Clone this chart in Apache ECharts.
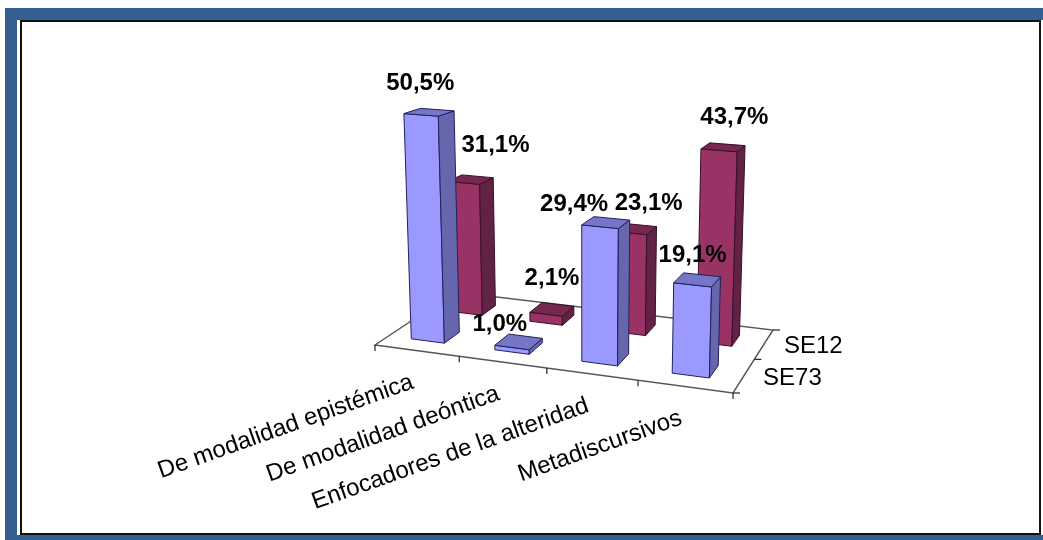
<!DOCTYPE html>
<html><head><meta charset="utf-8">
<style>html,body{margin:0;padding:0;background:#fff}#c{width:1043px;height:540px}</style>
<script src="https://cdn.jsdelivr.net/npm/echarts@6/dist/echarts.min.js"></script>
</head><body><div id="c"></div>
<script>
// ---- data ----
const categories = ['De modalidad epistémica','De modalidad deóntica','Enfocadores de la alteridad','Metadiscursivos'];
const seriesNames = ['SE73','SE12'];
const se73 = [50.5, 1.0, 29.4, 19.1];
const se12 = [31.1, 2.1, 23.1, 43.7];

// ---- layout of the pseudo-3D floor ----
const P0=[375,345],P1=[733,393],P2=[773,330],P3=[455,292];
const sx=P0[0]-P1[0]+P2[0]-P3[0], sy=P0[1]-P1[1]+P2[1]-P3[1];
const d1x=P1[0]-P2[0], d2x=P3[0]-P2[0], d1y=P1[1]-P2[1], d2y=P3[1]-P2[1];
const det=d1x*d2y-d2x*d1y;
const pg=(sx*d2y-d2x*sy)/det, ph=(d1x*sy-sx*d1y)/det;
function floorPt(u,v){
  const w=pg*u+ph*v+1;
  return [((P1[0]-P0[0]+pg*P1[0])*u+(P3[0]-P0[0]+ph*P3[0])*v+P0[0])/w,
          ((P1[1]-P0[1]+pg*P1[1])*u+(P3[1]-P0[1]+ph*P3[1])*v+P0[1])/w, w];
}
const LEAN=1.9e-4, CX=585;
function pt(u,v,px){
  const f=floorPt(u,v), hh=px/f[2];
  return [f[0]+(f[0]-CX)*hh*LEAN, f[1]-hh];
}
const BAR_U=0.1, U_SHIFT=-0.006;
const ROW_V=[[0.155,0.345],[0.655,0.845]];
const palettes=[
  {front:'#9999FF',side:'#6666AE',top:'#7676C8',edge:'#22225A'},
  {front:'#993366',side:'#622245',top:'#77284F',edge:'#3A1028'}
];
const LABEL_NUDGE=[[[-11,-29],[-21,-18],[-34,-18],[-7,-25]],[[23,-34],[-2,-31],[12,-26],[9,-30]]];
const BOLD='bold 24px "Liberation Sans", Arial, sans-serif';
const REG='24px "Liberation Sans", Arial, sans-serif';

function uOf(api,params,cat){
  const cs=params.coordSys;
  return (api.coord([cat,0])[0]-cs.x)/cs.width;
}
function poly(points,fill,stroke){
  return {type:'polygon',shape:{points:points},style:{fill:fill,stroke:stroke,lineWidth:1}};
}
function barRenderer(row){
  return function(params,api){
    const u=uOf(api,params,api.value(0))+U_SHIFT;
    const px=api.size([0,api.value(1)])[1];
    const c=palettes[row],u0=u-BAR_U/2,u1=u+BAR_U/2,v0=ROW_V[row][0],v1=ROW_V[row][1];
    return {type:'group',children:[
      poly([pt(u0,v0,0),pt(u1,v0,0),pt(u1,v0,px),pt(u0,v0,px)],c.front,c.edge),
      poly([pt(u1,v0,0),pt(u1,v1,0),pt(u1,v1,px),pt(u1,v0,px)],c.side,c.edge),
      poly([pt(u0,v0,px),pt(u1,v0,px),pt(u1,v1,px),pt(u0,v1,px)],c.top,c.edge)
    ]};
  };
}
function labelRenderer(row){
  return function(params,api){
    const cat=api.value(0),v=api.value(1);
    const u=uOf(api,params,cat),px=api.size([0,v])[1];
    const p=pt(u,(ROW_V[row][0]+ROW_V[row][1])/2,px),n=LABEL_NUDGE[row][cat];
    return {type:'text',x:p[0]+n[0],y:p[1]+n[1],style:{
      text:v.toFixed(1).replace('.',',')+'%',font:BOLD,fill:'#000',align:'center',verticalAlign:'middle'}};
  };
}
function catLabel(params,api){
  const cat=api.value(0),u=uOf(api,params,cat),p=floorPt(u,0);
  return {type:'text',x:p[0]-4,y:p[1]+31,rotation:0.342,style:{
    text:categories[cat],x:0,y:0,font:REG,fill:'#000',align:'right',verticalAlign:'middle'}};
}
function floorRender(params,api){
  const line=(a,b)=>({type:'line',shape:{x1:a[0],y1:a[1],x2:b[0],y2:b[1]},style:{stroke:'#222',lineWidth:1.2}});
  const ch=[poly([floorPt(0,0),floorPt(1,0),floorPt(1,1),floorPt(0,1)],'#fff','#555')];
  ch[0].style.lineWidth=1.4;
  for(let i=0;i<=categories.length;i++){const p=floorPt(i/categories.length,0);ch.push(line(p,[p[0],p[1]+6]));}
  for(let i=0;i<=seriesNames.length;i++){const p=floorPt(1,i/seriesNames.length);ch.push(line(p,[p[0]+7,p[1]]));}
  seriesNames.forEach((n,i)=>{
    const p=floorPt(1,(i+0.5)/seriesNames.length);
    ch.push({type:'text',x:p[0]+(i?20:19),y:p[1]+ (i?2:3),style:{text:n,font:REG,fill:'#000',align:'left',verticalAlign:'middle'}});
  });
  return {type:'group',children:ch};
}
const tuple=a=>a.map((v,i)=>[i,v]);
const chart=echarts.init(document.getElementById('c'),null,{renderer:'canvas'});
chart.setOption({
  animation:false,
  backgroundColor:'#fff',
  grid:{left:375,width:358,top:20,height:453},
  xAxis:{type:'category',data:categories,show:false},
  yAxis:{type:'value',min:0,max:100,show:false},
  tooltip:{show:false},
  graphic:[
    {type:'rect',z:0,shape:{x:5,y:8,width:1038,height:12},style:{fill:'#366092'}},
    {type:'rect',z:0,shape:{x:5,y:8,width:12,height:532},style:{fill:'#366092'}},
    {type:'rect',z:0,shape:{x:5,y:535,width:1038,height:5},style:{fill:'#366092'}},
    {type:'rect',z:0,shape:{x:21,y:21,width:1019,height:513},style:{fill:'#fff',stroke:'#111',lineWidth:2}}
  ],
  series:[
    {type:'custom',z:2,silent:true,data:[[0]],renderItem:floorRender,clip:false},
    {type:'custom',z:3,silent:true,name:seriesNames[1],data:tuple(se12),renderItem:barRenderer(1),clip:false,encode:{x:0,y:1}},
    {type:'custom',z:4,silent:true,name:seriesNames[0],data:tuple(se73),renderItem:barRenderer(0),clip:false,encode:{x:0,y:1}},
    {type:'custom',z:6,silent:true,data:tuple(se12),renderItem:labelRenderer(1),clip:false,encode:{x:0,y:1}},
    {type:'custom',z:6,silent:true,data:tuple(se73),renderItem:labelRenderer(0),clip:false,encode:{x:0,y:1}},
    {type:'custom',z:6,silent:true,data:categories.map((c,i)=>[i]),renderItem:catLabel,clip:false}
  ]
});
</script></body></html>
